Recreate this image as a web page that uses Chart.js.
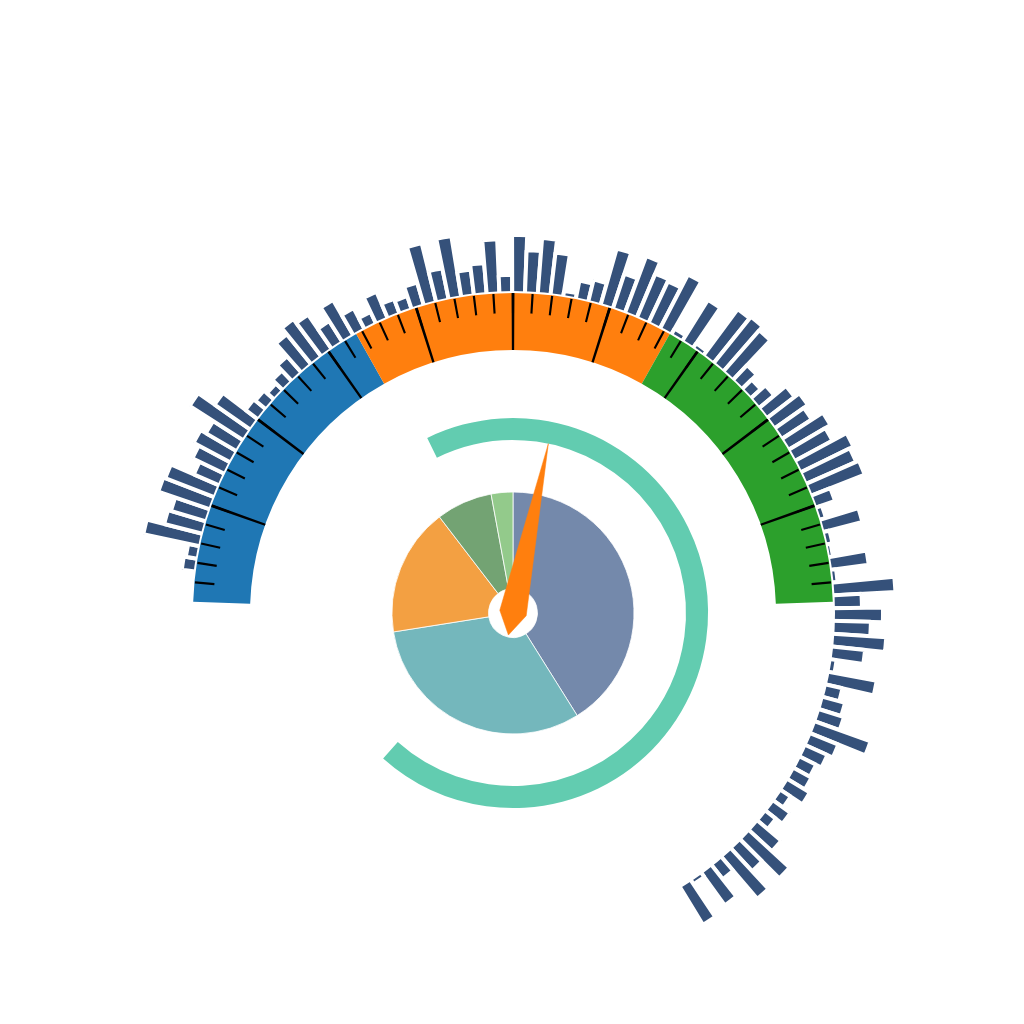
<!DOCTYPE html>
<html>
<head>
<meta charset="utf-8">
<script src="https://cdn.jsdelivr.net/npm/chart.js@4.4.1/dist/chart.umd.min.js"></script>
<style>
html,body{margin:0;padding:0;background:#ffffff;overflow:hidden;width:1024px;height:1024px;}
#wrap{position:relative;width:1024px;height:1024px;}
.layer{position:absolute;left:1px;top:101px;width:1024px;height:1024px;}
</style>
</head>
<body>
<div id="wrap"></div>
<script>
// ---------------- DATA ----------------
// radial bar lengths, clockwise from upper-left
const barValues = [
  10, 8, 54, 36, 33, 51, 49, 24, 32, 38,
  32, 60, 40, 12, 10, 6, 11, 18, 35, 43,
  38, 21, 37, 20, 9, 25, 12, 10, 20, 57,
  28, 58, 22, 27, 50, 14, 54, 39, 52, 39,
  2, 15, 19, 55, 33, 57, 44, 42, 57, 3,
  45, 2, 54, 56, 51, 17, 10, 16, 31, 37,
  32, 45, 39, 55, 51, 54, 17, 3, 37, 3,
  1, 35, 2, 59, 25, 46, 34, 50, 30, 3,
  46, 14, 20, 23, 56, 27, 21, 15, 17, 23,
  9, 18, 10, 28, 52, 28, 52, 15, 37, 2,
  41
];
const barCategories = barValues.map((_, i) => 'B' + (i + 1));

const pieCategories = ['A', 'B', 'C', 'D', 'E'];
const pieValues = [41.1, 31.4, 17.1, 7.5, 2.9];

const gaugeMin = 0;
const gaugeMax = 100;
const gaugeValue = 56.7;
const gaugeBandEnds = [33.333, 66.667, 100];
const gaugeSplitNumber = 10;
const gaugeMinorSplit = 5;

const progressValue = 68.85; // percent of full circle

// ---------------- STYLE / GEOMETRY ----------------
const GAUGE_START = -88, GAUGE_END = 88;
const GAUGE_SPAN = GAUGE_END - GAUGE_START;
const BAR_PITCH = 2.289;
const BAR_START = -81.4 - BAR_PITCH / 2;
const BAR_BASE = 324;          // px radius at value 0
const RADIAL_SIZE = 512;       // drawing area radius in px
const bandColors = ['#1f77b4', '#ff7f0e', '#2ca02c'];
const pieColors = ['#7489ab', '#74b7bc', '#f3a042', '#73a373', '#93ca8b'];
const CLEAR = 'rgba(0,0,0,0)';

Chart.defaults.animation = false;

const wrap = document.getElementById('wrap');
function makeCanvas() {
  const c = document.createElement('canvas');
  c.width = 1024; c.height = 1024;
  c.className = 'layer';
  wrap.appendChild(c);
  return c;
}
const common = {
  responsive: false,
  animation: false,
  events: [],
  layout: { padding: 0 },
  plugins: { legend: { display: false }, tooltip: { enabled: false }, title: { display: false } }
};

// 1. radial bars
new Chart(makeCanvas(), {
  type: 'polarArea',
  data: {
    labels: barCategories,
    datasets: [{
      data: barValues,
      backgroundColor: '#35517a',
      borderColor: '#ffffff',
      borderWidth: 4,
      angle: BAR_PITCH
    }]
  },
  options: Object.assign({}, common, {
    scales: {
      r: {
        display: false,
        bounds: 'data',
        min: -BAR_BASE,
        max: RADIAL_SIZE - BAR_BASE,
        startAngle: BAR_START,
        ticks: { display: false },
        grid: { display: false },
        angleLines: { display: false },
        pointLabels: { display: false }
      }
    }
  })
});

// 2. white disc hiding bar stems
new Chart(makeCanvas(), {
  type: 'doughnut',
  data: { labels: ['bg'], datasets: [{ data: [1], backgroundColor: ['#ffffff'], borderWidth: 0 }] },
  options: Object.assign({}, common, { radius: 322, cutout: 0 })
});

// 3. gauge colour bands
(function () {
  const data = [], colors = [];
  let prev = gaugeMin;
  gaugeBandEnds.forEach((v, i) => {
    data.push((v - prev) / (gaugeMax - gaugeMin) * GAUGE_SPAN);
    colors.push(bandColors[i]);
    prev = v;
  });
  data.push(360 - GAUGE_SPAN); colors.push(CLEAR);
  new Chart(makeCanvas(), {
    type: 'doughnut',
    data: { labels: ['low', 'mid', 'high', ''], datasets: [{ data, backgroundColor: colors, borderWidth: 0 }] },
    options: Object.assign({}, common, { radius: 320, cutout: (263 / 320 * 100) + '%', rotation: GAUGE_START, circumference: 360 })
  });
})();

// 4. tick rings (no tick drawn at the two ends of the gauge)
function tickRing(count, widthDeg, outerR, innerR) {
  const pitch = GAUGE_SPAN / (count - 1);
  const data = [], colors = [], labels = [];
  for (let k = 0; k < count; k++) {
    const isEnd = (k === 0 || k === count - 1);
    data.push(widthDeg); colors.push(isEnd ? CLEAR : '#000000'); labels.push('t' + k);
    const gap = k < count - 1 ? pitch - widthDeg : 360 - GAUGE_SPAN - widthDeg;
    data.push(gap); colors.push(CLEAR); labels.push('g' + k);
  }
  new Chart(makeCanvas(), {
    type: 'doughnut',
    data: { labels, datasets: [{ data, backgroundColor: colors, borderWidth: 0 }] },
    options: Object.assign({}, common, {
      radius: outerR, cutout: (innerR / outerR * 100) + '%',
      rotation: GAUGE_START - widthDeg / 2, circumference: 360
    })
  });
}
tickRing(gaugeSplitNumber * gaugeMinorSplit + 1, 0.4, 319.5, 300);
tickRing(gaugeSplitNumber + 1, 0.5, 320, 263);

// 5. progress ring
new Chart(makeCanvas(), {
  type: 'doughnut',
  data: { labels: ['progress', 'rest'], datasets: [{ data: [progressValue, 100 - progressValue], backgroundColor: ['#62ccb0', CLEAR], borderWidth: 0 }] },
  options: Object.assign({}, common, { radius: 195, cutout: (173 / 195 * 100) + '%', rotation: -26.1, circumference: 360 })
});

// 6. pie
new Chart(makeCanvas(), {
  type: 'doughnut',
  data: { labels: pieCategories, datasets: [{ data: pieValues, backgroundColor: pieColors, borderColor: '#ffffff', borderWidth: 0.8 }] },
  options: Object.assign({}, common, { radius: 121, cutout: (24.5 / 121 * 100) + '%', rotation: 0, circumference: 360 })
});

// 7. needle (kite drawn as a radar polygon rotated to the gauge value)
(function () {
  const needleAngle = GAUGE_START + (gaugeValue - gaugeMin) / (gaugeMax - gaugeMin) * GAUGE_SPAN;
  new Chart(makeCanvas(), {
    type: 'radar',
    data: {
      labels: ['tip', 'right', 'tail', 'left'],
      datasets: [{
        data: [173, 13.5, 22.5, 13.5],
        backgroundColor: '#ff7f0e',
        borderColor: '#ff7f0e',
        borderWidth: 0.5,
        fill: true,
        pointRadius: 0,
        tension: 0
      }]
    },
    options: Object.assign({}, common, {
      scales: {
        r: {
          display: false,
          bounds: 'data',
          min: 0,
          max: RADIAL_SIZE,
          startAngle: needleAngle,
          ticks: { display: false },
          grid: { display: false },
          angleLines: { display: false },
          pointLabels: { display: false }
        }
      }
    })
  });
})();
</script>
</body>
</html>
